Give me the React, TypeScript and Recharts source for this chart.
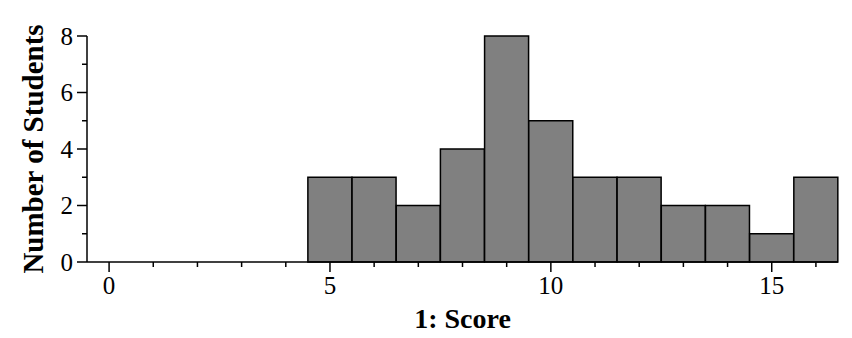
import { ComposedChart, Bar, XAxis, YAxis } from "recharts"

const scores = [0, 1, 2, 3, 4, 5, 6, 7, 8, 9, 10, 11, 12, 13, 14, 15, 16]
const counts = [0, 0, 0, 0, 0, 3, 3, 2, 4, 8, 5, 3, 3, 2, 2, 1, 3]
const xLabels = [0, 5, 10, 15]
const yTicks = [0, 1, 2, 3, 4, 5, 6, 7, 8]
const yLabels = [0, 2, 4, 6, 8]

const data = scores.map((s, i) => ({ score: s, count: counts[i] }))

const FONT = "'Liberation Serif', 'Times New Roman', serif"

const XTick = (props: any) => {
  const { x, y, payload } = props
  const major = xLabels.includes(payload.value)
  return (
    <g>
      <line x1={x} y1={y} x2={x} y2={y + (major ? 10 : 5)} stroke="#000" strokeWidth={1.5} />
      {major && (
        <text x={x} y={y + 32} textAnchor="middle" fontFamily={FONT} fontSize={25} fill="#000">
          {payload.value}
        </text>
      )}
    </g>
  )
}

const YTick = (props: any) => {
  const { x, y, payload } = props
  const major = yLabels.includes(payload.value)
  return (
    <g>
      <line x1={x} y1={y} x2={x - (major ? 10 : 5)} y2={y} stroke="#000" strokeWidth={1.5} />
      {major && (
        <text x={x - 14} y={y + 8.5} textAnchor="end" fontFamily={FONT} fontSize={25} fill="#000">
          {payload.value}
        </text>
      )}
    </g>
  )
}

export default function App() {
  return (
    <div style={{ position: "absolute", left: 0, top: 0, width: 852, height: 338, background: "#fff" }}>
      <ComposedChart
        width={852}
        height={338}
        data={data}
        margin={{ top: 36, right: 14, left: 0, bottom: 0 }}
        barCategoryGap={0}
        barGap={0}
      >
        <XAxis
          dataKey="score"
          type="category"
          interval={0}
          height={76}
          tickSize={0}
          tickMargin={0}
          tickLine={false}
          axisLine={{ stroke: "#000", strokeWidth: 1.5 }}
          tick={<XTick />}
          label={(p: any) => {
            const vb = p.viewBox
            return (
              <text
                x={vb.x + vb.width / 2}
                y={vb.y + 66}
                textAnchor="middle"
                fontFamily={FONT}
                fontWeight="bold"
                fontSize={28}
                fill="#000"
              >
                1: Score
              </text>
            )
          }}
        />
        <YAxis
          type="number"
          domain={[0, 8]}
          ticks={yTicks}
          interval={0}
          width={87}
          tickSize={0}
          tickMargin={0}
          tickLine={false}
          axisLine={{ stroke: "#000", strokeWidth: 1.5 }}
          tick={<YTick />}
          label={(p: any) => {
            const vb = p.viewBox
            const cx = 33
            const cy = vb.y + vb.height / 2
            return (
              <text
                x={cx}
                y={cy}
                transform={`rotate(-90, ${cx}, ${cy})`}
                textAnchor="middle"
                dominantBaseline="central"
                fontFamily={FONT}
                fontWeight="bold"
                fontSize={29}
                fill="#000"
              >
                Number of Students
              </text>
            )
          }}
        />
        <Bar dataKey="count" fill="#808080" stroke="#000" strokeWidth={1.5} isAnimationActive={false} />
      </ComposedChart>
    </div>
  )
}
